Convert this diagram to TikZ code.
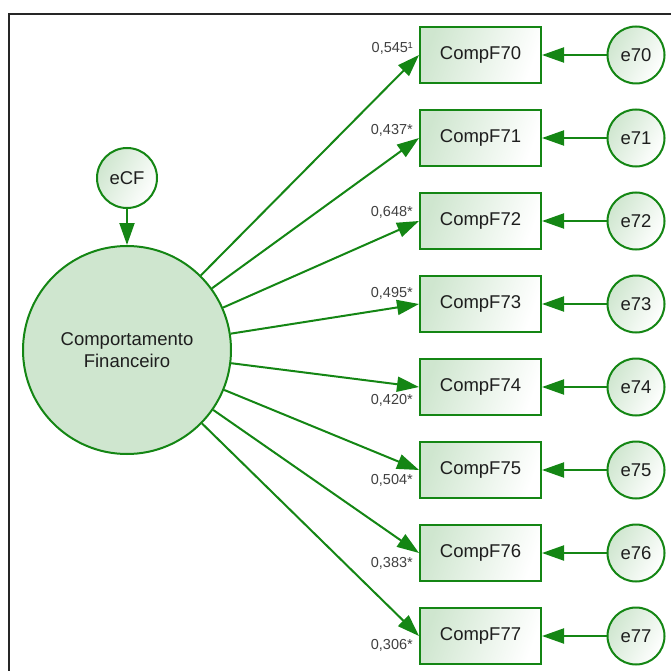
\documentclass[tikz,border=0pt]{standalone}
\usepackage{fontspec}
\setmainfont{Liberation Sans}
\usetikzlibrary{arrows.meta}
\definecolor{semgreen}{RGB}{20,134,20}
\definecolor{semfill}{RGB}{207,230,207}
\definecolor{semtext}{RGB}{30,30,30}
\tikzset{
  latent/.style={circle, draw=semgreen, line width=2pt, fill=semfill,
    minimum size=208pt, inner sep=0pt, align=center, text=semtext,
    font=\fontsize{18.5}{22}\selectfont},
  errvar/.style={circle, draw=semgreen, line width=2pt, minimum size=57pt,
    inner sep=0pt, left color=semfill, right color=white, shading angle=60,
    text=semtext, font=\fontsize{18.5}{22}\selectfont},
  indic/.style={rectangle, draw=semgreen, line width=2pt, minimum width=121pt,
    minimum height=56pt, inner sep=0pt, left color=semfill, right color=white,
    shading angle=70, text=semtext, font=\fontsize{18.5}{22}\selectfont},
  loading/.style={-{Triangle[length=22pt,width=15pt]}, draw=semgreen, line width=2pt},
  coef/.style={inner sep=0pt, anchor=east, text=semtext!85,
    font=\fontsize{14.5}{16}\selectfont}
}
\begin{document}
\begin{tikzpicture}[x=1pt,y=-1pt]
  \useasboundingbox (0,0) rectangle (671,671);
  \draw[line width=1.6pt, black!85] (9,14) rectangle (700,700);
  % latent variable and its disturbance
  \node[latent] (CF) at (127,350) {Comportamento\\Financeiro};
  \node[errvar, fill=semfill, minimum size=60pt] (eCF) at (127,178) {eCF};
  % indicators
  \node[indic] (c70) at (480.5,55) {CompF70};
  \node[indic] (c71) at (480.5,138) {CompF71};
  \node[indic] (c72) at (480.5,221) {CompF72};
  \node[indic] (c73) at (480.5,304) {CompF73};
  \node[indic] (c74) at (480.5,387) {CompF74};
  \node[indic] (c75) at (480.5,470) {CompF75};
  \node[indic] (c76) at (480.5,553) {CompF76};
  \node[indic] (c77) at (480.5,636) {CompF77};
  % measurement errors
  \node[errvar] (e70) at (636,55) {e70};
  \node[errvar] (e71) at (636,138) {e71};
  \node[errvar] (e72) at (636,221) {e72};
  \node[errvar] (e73) at (636,304) {e73};
  \node[errvar] (e74) at (636,387) {e74};
  \node[errvar] (e75) at (636,470) {e75};
  \node[errvar] (e76) at (636,553) {e76};
  \node[errvar] (e77) at (636,636) {e77};
  \begin{scope}[loading]
    \draw (eCF) -- (CF);
    \draw (CF) -- (c70.west);
    \draw (CF) -- (c71.west);
    \draw (CF) -- (c72.west);
    \draw (CF) -- (c73.west);
    \draw (CF) -- (c74.west);
    \draw (CF) -- (c75.west);
    \draw (CF) -- (c76.west);
    \draw (CF) -- (c77.west);
    \draw (e70) -- (c70.east);
    \draw (e71) -- (c71.east);
    \draw (e72) -- (c72.east);
    \draw (e73) -- (c73.east);
    \draw (e74) -- (c74.east);
    \draw (e75) -- (c75.east);
    \draw (e76) -- (c76.east);
    \draw (e77) -- (c77.east);
  \end{scope}
  % standardized loadings
  \node[coef] (l70) at ([xshift=-6pt,yshift=7pt]c70.west) {0,545¹};
  \node[coef] (l71) at ([xshift=-6pt,yshift=8pt]c71.west) {0,437*};
  \node[coef] (l72) at ([xshift=-6pt,yshift=9pt]c72.west) {0,648*};
  \node[coef] (l73) at ([xshift=-6pt,yshift=11pt]c73.west) {0,495*};
  \node[coef] (l74) at ([xshift=-6pt,yshift=-13pt]c74.west) {0,420*};
  \node[coef] (l75) at ([xshift=-6pt,yshift=-10pt]c75.west) {0,504*};
  \node[coef] (l76) at ([xshift=-6pt,yshift=-10pt]c76.west) {0,383*};
  \node[coef] (l77) at ([xshift=-6pt,yshift=-9pt]c77.west) {0,306*};
\end{tikzpicture}
\end{document}
